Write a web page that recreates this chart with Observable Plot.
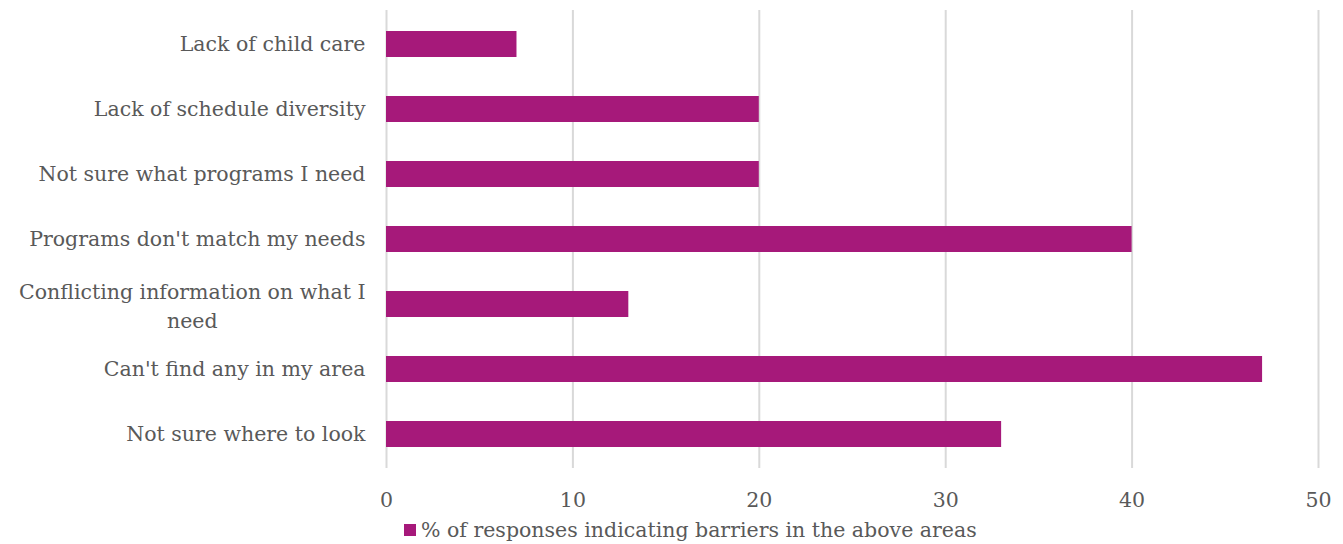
<!DOCTYPE html>
<html>
<head>
<meta charset="utf-8">
<script src="https://cdn.jsdelivr.net/npm/d3@7"></script>
<script src="https://cdn.jsdelivr.net/npm/@observablehq/plot@0.6"></script>
<style>
  html, body { margin: 0; padding: 0; background: #fff; }
  #wrap { position: relative; width: 1343px; height: 544px; font-family: "DejaVu Serif", serif; color: #595959; }
  #legend { position: absolute; left: 404px; top: 518px; font-size: 20.5px; line-height: 24px; display: flex; align-items: center; white-space: nowrap; }
  #legend .sw { width: 12px; height: 12px; background: #A6197A; margin-right: 5px; }
</style>
</head>
<body>
<div id="wrap"><div id="chart"></div><div id="legend"><span class="sw"></span><span id="legtext"></span></div></div>
<script>
const categories = [
  "Lack of child care",
  "Lack of schedule diversity",
  "Not sure what programs I need",
  "Programs don't match my needs",
  "Conflicting information on what I need",
  "Can't find any in my area",
  "Not sure where to look"
];
const wrappedCategory = "Conflicting information on what I need";
const wrappedLines = ["Conflicting information on what I", "need"];
const values = [7, 20, 20, 40, 13, 47, 33];
const xTicks = [0, 10, 20, 30, 40, 50];
const seriesName = "% of responses indicating barriers in the above areas";
const barColor = "#A6197A";

const data = categories.map((c, i) => ({category: c, value: values[i]}));
const FS = 20.5;
const FONT = "'DejaVu Serif', serif";

// measure the first wrapped line to centre the second line under it
const ctx = document.createElement("canvas").getContext("2d");
ctx.font = `${FS}px ${FONT}`;
const line1W = ctx.measureText(wrappedLines[0]).width;

const axisText = {tickSize: 0, fontSize: FS, fill: "#595959", label: null};

const chart = Plot.plot({
  width: 1343,
  height: 515,
  marginLeft: 386,
  marginRight: 25,
  marginTop: 10,
  marginBottom: 47,
  style: {fontFamily: FONT, color: "#595959", background: "#fff"},
  x: {domain: [0, 50], ticks: xTicks},
  y: {domain: categories, paddingInner: 0.6, paddingOuter: 0.3},
  marks: [
    Plot.gridX(xTicks, {stroke: "#d9d9d9", strokeOpacity: 1, strokeWidth: 2}),
    Plot.barX(data, {x: "value", y: "category", fill: barColor}),
    Plot.axisX(xTicks, {...axisText, tickPadding: 24}),
    Plot.axisY(categories.filter(c => c !== wrappedCategory), {...axisText, tickPadding: 21}),
    Plot.axisY([wrappedCategory], {...axisText, tickPadding: 21 + line1W / 2, textAnchor: "middle", lineHeight: 1.37, tickFormat: () => wrappedLines.join("\n")})
  ]
});
document.getElementById("chart").appendChild(chart);
document.getElementById("legtext").textContent = seriesName;
</script>
</body>
</html>
